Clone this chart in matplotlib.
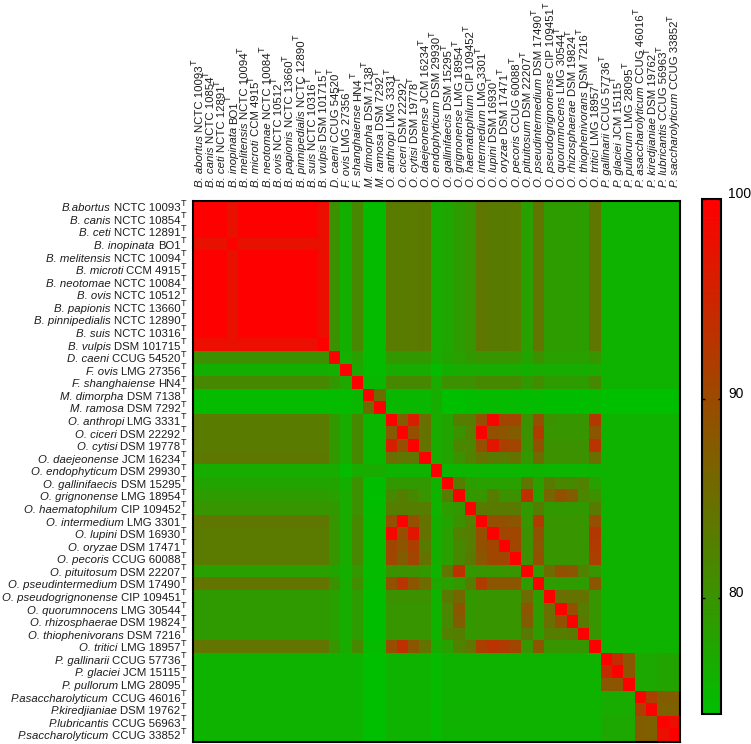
import numpy as np
import matplotlib
matplotlib.use("Agg")
import matplotlib.pyplot as plt
from matplotlib.colors import LinearSegmentedColormap

plt.rcParams["font.family"] = ["Liberation Sans", "DejaVu Sans"]

species = ["B. abortus", "B. canis", "B. ceti", "B. inopinata", "B. melitensis", "B. microti",
           "B. neotomae", "B. ovis", "B. papionis", "B. pinnipedialis", "B. suis", "B. vulpis",
           "D. caeni", "F. ovis", "F. shanghaiense", "M. dimorpha", "M. ramosa",
           "O. anthropi", "O. ciceri", "O. cytisi", "O. daejeonense", "O. endophyticum",
           "O. gallinifaecis", "O. grignonense", "O. haematophilum", "O. intermedium", "O. lupini",
           "O. oryzae", "O. pecoris", "O. pituitosum", "O. pseudintermedium", "O. pseudogrignonense",
           "O. quorumnocens", "O. rhizosphaerae", "O. thiophenivorans", "O. tritici",
           "P. gallinarii", "P. glaciei", "P. pullorum", "P. asaccharolyticum", "P. kiredjianiae",
           "P. lubricantis", "P. saccharolyticum"]
# the left side drops the space on a few names
species_left = list(species)
species_left[0] = "B.abortus"
species_left[39] = "P.asaccharolyticum"
species_left[40] = "P.kiredjianiae"
species_left[41] = "P.lubricantis"
species_left[42] = "P.saccharolyticum"

strains = ["NCTC 10093", "NCTC 10854", "NCTC 12891", "BO1", "NCTC 10094", "CCM 4915",
           "NCTC 10084", "NCTC 10512", "NCTC 13660", "NCTC 12890", "NCTC 10316", "DSM 101715",
           "CCUG 54520", "LMG 27356", "HN4", "DSM 7138", "DSM 7292",
           "LMG 3331", "DSM 22292", "DSM 19778", "JCM 16234", "DSM 29930",
           "DSM 15295", "LMG 18954", "CIP 109452", "LMG 3301", "DSM 16930",
           "DSM 17471", "CCUG 60088", "DSM 22207", "DSM 17490", "CIP 109451",
           "LMG 30544", "DSM 19824", "DSM 7216", "LMG 18957",
           "CCUG 57736", "JCM 15115", "LMG 28095", "CCUG 46016", "DSM 19762",
           "CCUG 56963", "CCUG 33852"]

bar_ticks = [80, 90, 100]

# similarity rows
brucella_a = [100, 100, 100, 97.6, 100, 100, 100, 100, 100, 100, 100, 98.0,
              80.3, 76.2, 81.3, 74.7, 74.7,
              83.2, 83.2, 83.4, 83.6, 76.7, 77.4, 78.8, 79.8, 83.8, 83.3, 83.3, 83.4, 78.2, 84.0, 78.8, 78.8, 78.8, 78.6, 83.8,
              75.7, 75.7, 75.7, 75.7, 75.7, 75.7, 75.7]
brucella_i = [97.6, 97.6, 97.6, 100, 97.6, 97.6, 97.6, 97.6, 97.6, 97.6, 97.6, 97.8,
              80.3, 76.2, 81.3, 74.7, 74.7,
              83.2, 83.2, 83.4, 83.6, 76.7, 77.4, 78.8, 79.8, 83.8, 83.3, 83.3, 83.4, 78.2, 84.0, 78.8, 78.8, 78.8, 78.6, 83.8,
              75.7, 75.7, 75.7, 75.7, 75.7, 75.7, 75.7]
brucella_v = [98.0, 98.0, 98.0, 97.8, 98.0, 98.0, 98.0, 98.0, 98.0, 98.0, 98.0, 100,
              80.3, 76.2, 81.3, 74.7, 74.7,
              83.2, 83.2, 83.4, 83.6, 76.7, 77.4, 78.8, 79.8, 83.8, 83.3, 83.3, 83.4, 78.2, 84.0, 78.8, 78.8, 78.8, 78.6, 83.8,
              75.7, 75.7, 75.7, 75.7, 75.7, 75.7, 75.7]
d_caeni = [80.3, 80.3, 80.3, 80.3, 80.3, 80.3, 80.3, 80.3, 80.3, 80.3, 80.3, 80.3,
           100, 76.3, 78.2, 74.7, 74.7,
           79.3, 79.3, 79.3, 79.3, 76.7, 77.7, 78.2, 79.3, 79.8, 79.8, 79.8, 79.8, 77.7, 80.3, 78.2, 78.2, 78.2, 78.2, 79.8,
           75.7, 75.7, 75.7, 75.7, 75.7, 75.7, 75.7]
f_ovis = [76.2, 76.2, 76.2, 76.2, 76.2, 76.2, 76.2, 76.2, 76.2, 76.2, 76.2, 76.2,
          76.3, 100, 77.2, 74.7, 74.7,
          76.7, 76.7, 76.7, 76.7, 74.7, 76.2, 76.7, 76.7, 76.7, 76.7, 76.7, 76.7, 76.2, 76.7, 76.5, 76.5, 76.5, 76.5, 76.7,
          75.7, 75.7, 75.7, 75.7, 75.7, 75.7, 75.7]
f_shang = [81.3, 81.3, 81.3, 81.3, 81.3, 81.3, 81.3, 81.3, 81.3, 81.3, 81.3, 81.3,
           79.3, 77.2, 100, 75.2, 75.2,
           81.3, 81.3, 81.3, 81.3, 76.7, 80.3, 80.3, 80.3, 81.3, 81.3, 81.3, 81.3, 79.3, 80.8, 78.8, 78.8, 78.8, 78.8, 81.3,
           75.7, 75.7, 75.7, 75.7, 75.7, 75.7, 75.7]
m_dimorpha = [74.7, 74.7, 74.7, 74.7, 74.7, 74.7, 74.7, 74.7, 74.7, 74.7, 74.7, 74.7,
              74.7, 74.7, 75.2, 100, 85.3,
              75.2, 75.2, 75.2, 75.2, 76.5, 74.2, 74.2, 74.5, 74.7, 74.7, 74.7, 74.7, 74.7, 74.7, 74.4, 74.4, 74.4, 74.4, 74.7,
              74.2, 74.2, 74.2, 74.2, 74.2, 74.2, 74.2]
m_ramosa = [74.7, 74.7, 74.7, 74.7, 74.7, 74.7, 74.7, 74.7, 74.7, 74.7, 74.7, 74.7,
            74.7, 74.7, 75.2, 85.3, 100,
            75.2, 75.2, 75.2, 75.2, 76.5, 74.2, 74.2, 74.5, 74.7, 74.7, 74.7, 74.7, 74.7, 74.7, 74.4, 74.4, 74.4, 74.4, 74.7,
            74.2, 74.2, 74.2, 74.2, 74.2, 74.2, 74.2]
o_anthropi = [83.2, 83.2, 83.2, 83.2, 83.2, 83.2, 83.2, 83.2, 83.2, 83.2, 83.2, 83.2,
              79.3, 76.7, 81.3, 75.2, 75.2,
              100, 87.4, 96.0, 84.8, 76.7, 77.7, 82.8, 82.8, 89.4, 99.0, 90.4, 90.4, 80.3, 88.9, 80.3, 79.8, 79.8, 79.8, 92.4,
              75.7, 75.7, 75.7, 75.7, 75.7, 75.7, 75.7]
o_ciceri = [83.2, 83.2, 83.2, 83.2, 83.2, 83.2, 83.2, 83.2, 83.2, 83.2, 83.2, 83.2,
            79.3, 76.7, 81.3, 75.2, 75.2,
            87.9, 100, 89.4, 84.3, 76.7, 77.7, 80.3, 82.3, 99.5, 88.9, 88.4, 87.4, 80.3, 91.9, 79.8, 79.8, 79.8, 79.8, 88.4,
            75.7, 75.7, 75.7, 75.7, 75.7, 75.7, 75.7]
o_cytisi = [83.2, 83.2, 83.2, 83.2, 83.2, 83.2, 83.2, 83.2, 83.2, 83.2, 83.2, 83.2,
            79.3, 76.7, 81.3, 75.2, 75.2,
            96.0, 89.4, 100, 84.3, 76.7, 77.7, 81.8, 81.8, 89.4, 97.0, 91.4, 90.4, 80.3, 88.9, 80.3, 80.3, 80.3, 80.3, 92.9,
            75.7, 75.7, 75.7, 75.7, 75.7, 75.7, 75.7]
o_daejeonense = [83.6, 83.6, 83.6, 83.6, 83.6, 83.6, 83.6, 83.6, 83.6, 83.6, 83.6, 83.6,
                 79.3, 76.7, 81.3, 75.2, 75.2,
                 84.8, 83.8, 83.8, 100, 76.7, 77.7, 80.3, 82.3, 84.3, 83.3, 83.3, 84.3, 79.3, 85.3, 80.3, 80.3, 80.3, 80.3, 84.8,
                 75.7, 75.7, 75.7, 75.7, 75.7, 75.7, 75.7]
o_endophyticum = [76.5, 76.5, 76.5, 76.5, 76.5, 76.5, 76.5, 76.5, 76.5, 76.5, 76.5, 76.5,
                  76.7, 74.7, 76.7, 76.5, 76.5,
                  75.7, 75.7, 75.7, 75.7, 100, 75.4, 75.4, 75.4, 75.4, 75.4, 75.4, 75.4, 75.4, 75.7, 75.4, 75.4, 75.4, 75.4, 75.7,
                  75.7, 75.7, 75.7, 75.7, 75.7, 75.7, 75.7]
o_gallinifaecis = [77.7, 77.7, 77.7, 77.7, 77.7, 77.7, 77.7, 77.7, 77.7, 77.7, 77.7, 77.7,
                   77.7, 76.2, 80.3, 74.4, 74.4,
                   79.3, 79.3, 79.3, 79.3, 75.7, 100, 82.8, 78.8, 78.2, 78.2, 78.2, 78.2, 83.8, 78.2, 83.3, 81.8, 81.3, 82.3, 78.2,
                   75.7, 75.7, 75.7, 75.7, 75.7, 75.7, 75.7]
o_grignonense = [78.8, 78.8, 78.8, 78.8, 78.8, 78.8, 78.8, 78.8, 78.8, 78.8, 78.8, 78.8,
                 78.2, 76.7, 80.3, 74.4, 74.4,
                 81.3, 82.8, 81.3, 79.8, 75.7, 82.8, 100, 79.3, 79.8, 82.8, 80.3, 80.3, 93.4, 77.7, 86.3, 88.9, 87.4, 81.8, 80.3,
                 75.7, 75.7, 75.7, 75.7, 75.7, 75.7, 75.7]
o_haematophilum = [79.8, 79.8, 79.8, 79.8, 79.8, 79.8, 79.8, 79.8, 79.8, 79.8, 79.8, 79.8,
                   79.3, 76.7, 80.3, 74.5, 74.5,
                   82.8, 82.8, 82.8, 82.8, 75.7, 78.8, 79.3, 100, 83.3, 83.3, 83.3, 83.3, 79.3, 82.8, 79.3, 79.3, 79.3, 79.3, 83.3,
                   75.7, 75.7, 75.7, 75.7, 75.7, 75.7, 75.7]
o_intermedium = [83.8, 83.8, 83.8, 83.8, 83.8, 83.8, 83.8, 83.8, 83.8, 83.8, 83.8, 83.8,
                 79.8, 76.7, 81.3, 74.7, 74.7,
                 89.4, 99.5, 89.4, 84.3, 76.2, 77.7, 80.3, 82.3, 100, 89.4, 88.9, 88.4, 79.8, 91.9, 79.8, 79.8, 79.8, 79.8, 89.4,
                 75.7, 75.7, 75.7, 75.7, 75.7, 75.7, 75.7]
o_lupini = [83.4, 83.4, 83.4, 83.4, 83.4, 83.4, 83.4, 83.4, 83.4, 83.4, 83.4, 83.4,
            79.8, 76.7, 81.3, 74.7, 74.7,
            99.0, 89.4, 97.0, 84.3, 76.2, 78.2, 82.3, 82.8, 89.4, 100, 90.4, 90.4, 80.3, 88.9, 79.8, 79.8, 79.8, 79.8, 92.4,
            75.7, 75.7, 75.7, 75.7, 75.7, 75.7, 75.7]
o_oryzae = [83.4, 83.4, 83.4, 83.4, 83.4, 83.4, 83.4, 83.4, 83.4, 83.4, 83.4, 83.4,
            79.8, 76.7, 81.3, 74.7, 74.7,
            90.4, 88.4, 91.4, 83.3, 76.2, 78.2, 81.3, 82.8, 88.9, 90.4, 100, 90.4, 80.3, 88.4, 79.8, 79.8, 79.8, 79.8, 91.9,
            75.7, 75.7, 75.7, 75.7, 75.7, 75.7, 75.7]
o_pecoris = [83.4, 83.4, 83.4, 83.4, 83.4, 83.4, 83.4, 83.4, 83.4, 83.4, 83.4, 83.4,
             79.8, 76.7, 81.3, 74.7, 74.7,
             90.4, 87.4, 90.4, 84.3, 76.2, 78.2, 81.3, 83.3, 88.4, 90.4, 90.4, 100, 80.3, 88.9, 79.8, 79.8, 79.8, 79.8, 91.4,
             75.7, 75.7, 75.7, 75.7, 75.7, 75.7, 75.7]
o_pituitosum = [78.2, 78.2, 78.2, 78.2, 78.2, 78.2, 78.2, 78.2, 78.2, 78.2, 78.2, 78.2,
                77.7, 76.2, 79.3, 74.7, 74.7,
                80.3, 80.3, 80.3, 79.3, 75.7, 83.8, 93.4, 79.3, 79.8, 79.8, 79.8, 79.8, 100, 78.8, 85.3, 88.9, 88.4, 82.3, 79.8,
                75.7, 75.7, 75.7, 75.7, 75.7, 75.7, 75.7]
o_pseudintermedium = [84.2, 84.2, 84.2, 84.2, 84.2, 84.2, 84.2, 84.2, 84.2, 84.2, 84.2, 84.2,
                      80.3, 76.7, 80.8, 74.7, 74.7,
                      88.9, 93.0, 88.4, 85.3, 77.2, 78.2, 79.3, 82.8, 91.9, 88.4, 88.4, 88.4, 78.8, 100, 78.8, 78.8, 78.8, 78.8, 88.4,
                      75.7, 75.7, 75.7, 75.7, 75.7, 75.7, 75.7]
o_pseudogrignonense = [79.0, 79.0, 79.0, 79.0, 79.0, 79.0, 79.0, 79.0, 79.0, 79.0, 79.0, 79.0,
                       78.2, 76.5, 78.8, 74.4, 74.4,
                       80.3, 80.3, 80.3, 80.3, 75.7, 83.3, 85.8, 79.3, 79.8, 79.8, 79.8, 79.8, 85.3, 78.8, 100, 84.8, 84.3, 84.3, 79.8,
                       75.7, 75.7, 75.7, 75.7, 75.7, 75.7, 75.7]
o_quorumnocens = [79.0, 79.0, 79.0, 79.0, 79.0, 79.0, 79.0, 79.0, 79.0, 79.0, 79.0, 79.0,
                  78.2, 76.5, 78.8, 74.4, 74.4,
                  79.8, 79.8, 79.8, 79.8, 75.7, 81.8, 88.4, 79.3, 79.8, 79.8, 79.8, 79.8, 88.4, 78.8, 84.8, 100, 89.4, 82.8, 79.8,
                  75.7, 75.7, 75.7, 75.7, 75.7, 75.7, 75.7]
o_rhizosphaerae = [79.0, 79.0, 79.0, 79.0, 79.0, 79.0, 79.0, 79.0, 79.0, 79.0, 79.0, 79.0,
                   78.2, 76.5, 78.8, 74.4, 74.4,
                   79.8, 79.8, 79.8, 79.8, 75.7, 81.3, 87.4, 79.3, 79.8, 79.8, 79.8, 79.8, 87.4, 78.8, 84.8, 88.9, 100, 83.3, 79.8,
                   75.7, 75.7, 75.7, 75.7, 75.7, 75.7, 75.7]
o_thiophenivorans = [79.0, 79.0, 79.0, 79.0, 79.0, 79.0, 79.0, 79.0, 79.0, 79.0, 79.0, 79.0,
                     78.2, 76.5, 78.8, 74.4, 74.4,
                     79.8, 79.8, 79.8, 79.8, 75.7, 82.3, 82.8, 79.3, 79.8, 79.8, 79.8, 79.8, 83.3, 78.8, 82.8, 82.8, 83.3, 100, 79.8,
                     75.7, 75.7, 75.7, 75.7, 75.7, 75.7, 75.7]
o_tritici = [84.0, 84.0, 84.0, 84.0, 84.0, 84.0, 84.0, 84.0, 84.0, 84.0, 84.0, 84.0,
             79.8, 76.7, 81.3, 74.7, 74.7,
             89.4, 93.4, 88.4, 84.3, 76.7, 78.2, 82.3, 83.8, 91.4, 92.9, 91.9, 90.4, 79.8, 88.4, 79.8, 79.8, 79.8, 79.8, 100,
             75.7, 75.7, 75.7, 75.7, 75.7, 75.7, 75.7]
p_gallinarii = [75.7, 75.7, 75.7, 75.7, 75.7, 75.7, 75.7, 75.7, 75.7, 75.7, 75.7, 75.7,
                75.7, 75.7, 75.7, 74.2, 74.2,
                75.7, 75.7, 75.7, 75.7, 74.7, 75.7, 75.7, 75.7, 75.7, 75.7, 75.7, 75.7, 75.7, 75.7, 75.7, 75.7, 75.7, 75.7, 75.7,
                100, 93.9, 88.4, 77.2, 77.2, 77.7, 77.7]
p_glaciei = [75.7, 75.7, 75.7, 75.7, 75.7, 75.7, 75.7, 75.7, 75.7, 75.7, 75.7, 75.7,
             75.7, 75.7, 75.7, 74.2, 74.2,
             75.7, 75.7, 75.7, 75.7, 74.7, 75.7, 75.7, 75.7, 75.7, 75.7, 75.7, 75.7, 75.7, 75.7, 75.7, 75.7, 75.7, 75.7, 75.7,
             93.9, 100, 88.4, 77.2, 77.2, 77.7, 77.7]
p_pullorum = [75.7, 75.7, 75.7, 75.7, 75.7, 75.7, 75.7, 75.7, 75.7, 75.7, 75.7, 75.7,
              75.7, 75.7, 75.7, 74.2, 74.2,
              75.7, 75.7, 75.7, 75.7, 74.7, 75.7, 75.7, 75.7, 75.7, 75.7, 75.7, 75.7, 75.7, 75.7, 75.7, 75.7, 75.7, 75.7, 75.7,
              88.4, 88.4, 100, 77.2, 77.2, 77.7, 77.7]
p_asaccharolyticum = [75.7, 75.7, 75.7, 75.7, 75.7, 75.7, 75.7, 75.7, 75.7, 75.7, 75.7, 75.7,
                      75.7, 75.7, 75.7, 74.2, 74.2,
                      75.7, 75.7, 75.7, 75.7, 74.7, 75.7, 75.7, 75.7, 75.7, 75.7, 75.7, 75.7, 75.7, 75.7, 75.7, 75.7, 75.7, 75.7, 75.7,
                      76.7, 76.7, 76.7, 100, 91.4, 87.4, 87.4]
p_kiredjianiae = [75.7, 75.7, 75.7, 75.7, 75.7, 75.7, 75.7, 75.7, 75.7, 75.7, 75.7, 75.7,
                  75.7, 75.7, 75.7, 74.2, 74.2,
                  75.7, 75.7, 75.7, 75.7, 74.7, 75.9, 75.7, 75.7, 75.7, 75.7, 75.7, 75.7, 75.7, 75.7, 75.7, 75.7, 75.7, 75.7, 75.7,
                  76.7, 76.7, 76.7, 91.4, 100, 86.9, 86.9]
p_lubricantis = [75.7, 75.7, 75.7, 75.7, 75.7, 75.7, 75.7, 75.7, 75.7, 75.7, 75.7, 75.7,
                 75.7, 75.7, 75.7, 74.2, 74.2,
                 75.7, 75.7, 75.7, 75.7, 74.7, 75.9, 75.9, 75.9, 75.7, 75.7, 75.7, 75.7, 75.7, 75.7, 75.7, 75.7, 75.7, 75.7, 75.7,
                 77.2, 77.2, 77.2, 87.4, 86.9, 100, 98.0]
p_saccharolyticum = [75.7, 75.7, 75.7, 75.7, 75.7, 75.7, 75.7, 75.7, 75.7, 75.7, 75.7, 75.7,
                     75.7, 75.7, 75.7, 74.2, 74.2,
                     75.7, 75.7, 75.7, 75.7, 74.7, 75.7, 75.7, 75.7, 75.7, 75.7, 75.7, 75.7, 75.7, 75.7, 75.7, 75.7, 75.7, 75.7, 75.7,
                     77.2, 77.2, 77.2, 87.4, 86.9, 98.0, 100]

matrix = np.array([brucella_a, brucella_a, brucella_a, brucella_i, brucella_a, brucella_a,
                   brucella_a, brucella_a, brucella_a, brucella_a, brucella_a, brucella_v,
                   d_caeni, f_ovis, f_shang, m_dimorpha, m_ramosa,
                   o_anthropi, o_ciceri, o_cytisi, o_daejeonense, o_endophyticum,
                   o_gallinifaecis, o_grignonense, o_haematophilum, o_intermedium, o_lupini,
                   o_oryzae, o_pecoris, o_pituitosum, o_pseudintermedium, o_pseudogrignonense,
                   o_quorumnocens, o_rhizosphaerae, o_thiophenivorans, o_tritici,
                   p_gallinarii, p_glaciei, p_pullorum, p_asaccharolyticum, p_kiredjianiae,
                   p_lubricantis, p_saccharolyticum])

w, h = 751, 744
fig = plt.figure(figsize=(w / 100, h / 100), dpi=100)
ax = fig.add_axes([193 / w, (h - 741.5) / h, 487 / w, 540.5 / h])
cax = fig.add_axes([701.5 / w, (h - 714) / h, 19.5 / w, 515 / h])

cmap = LinearSegmentedColormap.from_list("gr", ["#00be00", "#ff0000"])
im = ax.imshow(matrix, cmap=cmap, vmin=74.2, vmax=100, aspect="auto", interpolation="nearest")
ax.set_xticks([])
ax.set_yticks([])
for spine in ax.spines.values():
    spine.set_linewidth(1.5)

cb = fig.colorbar(im, cax=cax, ticks=bar_ticks)
cb.outline.set_linewidth(1.5)
cax.tick_params(left=True, right=True, direction="in", length=2.5, width=1, labelright=False)
for tick in bar_ticks:
    cax.annotate(str(tick), xy=(1, tick), xycoords=cax.get_yaxis_transform(),
                 xytext=(5, 3.6), textcoords="offset points", va="center", fontsize=10)

renderer = fig.canvas.get_renderer()
label_size = 8.2
t_size = 6.5
text_color = "#1c1c1c"


def put(x, y, s, rot=0, ha="left", **kw):
    # x, y in pixels from lower left
    return fig.text(x / w, y / h, s, rotation=rot, rotation_mode="anchor", ha=ha, va="baseline",
                    color=text_color, **kw)


def width_of(s, **kw):
    t = fig.text(0, 0, s, **kw)
    box = t.get_window_extent(renderer)
    t.remove()
    return box.width


space = 0.278 * label_size * 100 / 72
# labels along the top, name in italics then strain then a raised T
for i, (name, strain) in enumerate(zip(species, strains)):
    xc = ax.transData.transform((i, 0))[0]
    y0 = h - 187
    put(xc + 4, y0, name, rot=90, fontsize=label_size, style="italic")
    y1 = y0 + width_of(name, fontsize=label_size, style="italic") + space
    put(xc + 4, y1, strain, rot=90, fontsize=label_size)
    y2 = y1 + width_of(strain, fontsize=label_size)
    put(xc - 1.5, y2, "T", rot=90, fontsize=t_size)

# labels on the left, right aligned at the same edge
for i, (name, strain) in enumerate(zip(species_left, strains)):
    yc = ax.transData.transform((0, i))[1]
    x2 = 180.5
    put(x2, yc + 1.5, "T", fontsize=t_size)
    put(x2, yc - 4, strain, ha="right", fontsize=label_size)
    x1 = x2 - width_of(strain, fontsize=label_size) - space
    put(x1, yc - 4, name, ha="right", fontsize=label_size, style="italic")

fig.savefig("out.png", dpi=100)
